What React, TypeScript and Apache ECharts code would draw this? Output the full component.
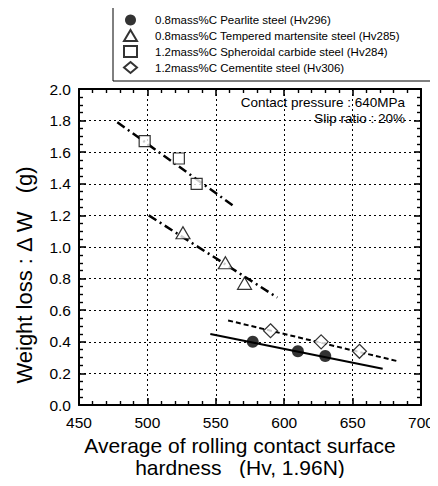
import React, { useEffect, useRef } from "react";
import * as echarts from "echarts";

const pearliteX = [577, 610, 630];
const pearliteY = [0.40, 0.34, 0.31];
const temperedX = [526, 557, 571];
const temperedY = [1.09, 0.90, 0.77];
const spheroidalX = [498, 523, 536];
const spheroidalY = [1.67, 1.56, 1.40];
const cementiteX = [590, 627, 655];
const cementiteY = [0.47, 0.40, 0.34];

const pearliteFitX = [546, 672];
const pearliteFitY = [0.45, 0.23];
const temperedFitX = [501, 595];
const temperedFitY = [1.20, 0.68];
const spheroidalFitX = [478, 563];
const spheroidalFitY = [1.79, 1.26];
const cementiteFitX = [559, 684];
const cementiteFitY = [0.535, 0.275];

const legendNames = [
  "0.8mass%C Pearlite steel (Hv296)",
  "0.8mass%C Tempered martensite steel (Hv285)",
  "1.2mass%C Spheroidal carbide steel (Hv284)",
  "1.2mass%C Cementite steel (Hv306)",
];
const xTickMin = 450;
const xTickMax = 700;
const yTickMin = 0;
const yTickMax = 2;

const zip = (xs: number[], ys: number[]) => xs.map((x, i) => [x, ys[i]]);

export default function App() {
  const ref = useRef<HTMLDivElement>(null);
  useEffect(() => {
    if (!ref.current) return;
    const chart = echarts.init(ref.current, undefined, { renderer: "svg" });
    const font = "Liberation Sans, Arial, sans-serif";
    const openStyle = { color: "#fff", borderColor: "#000", borderWidth: 1.2 };
    const line = { show: true, onZero: false, lineStyle: { color: "#000", width: 2 } };
    const tick = { show: true, inside: true, length: 7, lineStyle: { color: "#000", width: 1.6 } };
    const minorX = { show: true, splitNumber: 5, length: 4, lineStyle: { color: "#000", width: 1.4 } };
    const minorY = { show: true, splitNumber: 4, length: 4, lineStyle: { color: "#000", width: 1.4 } };
    const grid = { show: true, lineStyle: { color: "#000", type: [2, 3], width: 1 } };
    chart.setOption({
      animation: false,
      backgroundColor: "#fff",
      textStyle: { fontFamily: font },
      grid: { left: 79, right: 17, top: 89, bottom: 81, containLabel: false, outerBoundsMode: "none" },
      legend: {
        orient: "vertical",
        left: 113,
        top: 6,
        data: legendNames,
        itemWidth: 13,
        itemHeight: 11,
        itemGap: 3,
        padding: [8, 34, 7, 10],
        borderColor: "#000",
        borderWidth: 1,
        textStyle: { fontFamily: font, fontSize: 11.5, color: "#000", padding: [0, 0, 0, 13] },
      },
      xAxis: [
        {
          type: "value",
          min: xTickMin,
          max: xTickMax,
          interval: 50,
          axisLine: line,
          axisTick: tick,
          minorTick: minorX,
          splitLine: grid,
          axisLabel: { color: "#000", fontSize: 15.5, margin: 9, fontFamily: font },
          name: "Average of rolling contact surface\nhardness   (Hv, 1.96N)",
          nameLocation: "middle",
          nameGap: 26,
          nameTextStyle: { color: "#000", fontSize: 21, lineHeight: 22, fontFamily: font, padding: [0, 20, 0, 0] },
        },
        {
          type: "value",
          position: "top",
          min: xTickMin,
          max: xTickMax,
          interval: 50,
          axisLine: line,
          axisTick: tick,
          minorTick: minorX,
          splitLine: { show: false },
          axisLabel: { show: false },
        },
      ],
      yAxis: [
        {
          type: "value",
          min: yTickMin,
          max: yTickMax,
          interval: 0.2,
          axisLine: line,
          axisTick: tick,
          minorTick: minorY,
          splitLine: grid,
          axisLabel: { color: "#000", fontSize: 15.5, margin: 8, fontFamily: font, formatter: (v: number) => v.toFixed(1) },
          name: "Weight loss : \u0394 W   (g)",
          nameLocation: "middle",
          nameGap: 44,
          nameTextStyle: { color: "#000", fontSize: 22, fontFamily: font, padding: [0, 56, 0, 0] },
        },
        {
          type: "value",
          position: "right",
          min: yTickMin,
          max: yTickMax,
          interval: 0.2,
          axisLine: line,
          axisTick: tick,
          minorTick: minorY,
          splitLine: { show: false },
          axisLabel: { show: false },
        },
      ],
      graphic: [
        {
          type: "text",
          right: 33,
          top: 95,
          style: { text: "Contact pressure : 640MPa", font: `13.5px ${font}`, fill: "#000", textAlign: "right" },
        },
        {
          type: "text",
          right: 33,
          top: 111,
          style: { text: "Slip ratio : 20%", font: `13.5px ${font}`, fill: "#000", textAlign: "right" },
        },
      ],
      series: [
        {
          type: "line",
          data: zip(spheroidalFitX, spheroidalFitY),
          symbol: "none",
          lineStyle: { color: "#000", width: 2.5, type: [9, 4, 2, 4] },
          z: 2,
        },
        {
          type: "line",
          data: zip(temperedFitX, temperedFitY),
          symbol: "none",
          lineStyle: { color: "#000", width: 2.5, type: [9, 4, 2, 4] },
          z: 2,
        },
        {
          type: "line",
          data: zip(pearliteFitX, pearliteFitY),
          symbol: "none",
          lineStyle: { color: "#000", width: 2 },
          z: 2,
        },
        {
          type: "line",
          data: zip(cementiteFitX, cementiteFitY),
          symbol: "none",
          lineStyle: { color: "#000", width: 2, type: [5, 3] },
          z: 2,
        },
        {
          name: legendNames[0],
          type: "scatter",
          data: zip(pearliteX, pearliteY),
          symbol: "circle",
          symbolSize: 12,
          itemStyle: { color: "#000" },
          z: 5,
        },
        {
          name: legendNames[1],
          type: "scatter",
          data: zip(temperedX, temperedY),
          symbol: "triangle",
          symbolSize: [14, 12],
          itemStyle: openStyle,
          z: 5,
        },
        {
          name: legendNames[2],
          type: "scatter",
          data: zip(spheroidalX, spheroidalY),
          symbol: "rect",
          symbolSize: 11,
          itemStyle: openStyle,
          z: 5,
        },
        {
          name: legendNames[3],
          type: "scatter",
          data: zip(cementiteX, cementiteY),
          symbol: "diamond",
          symbolSize: 14,
          itemStyle: openStyle,
          z: 5,
        },
      ],
    });
    return () => chart.dispose();
  }, []);
  return <div ref={ref} style={{ width: 438, height: 486, margin: -8 }} />;
}
